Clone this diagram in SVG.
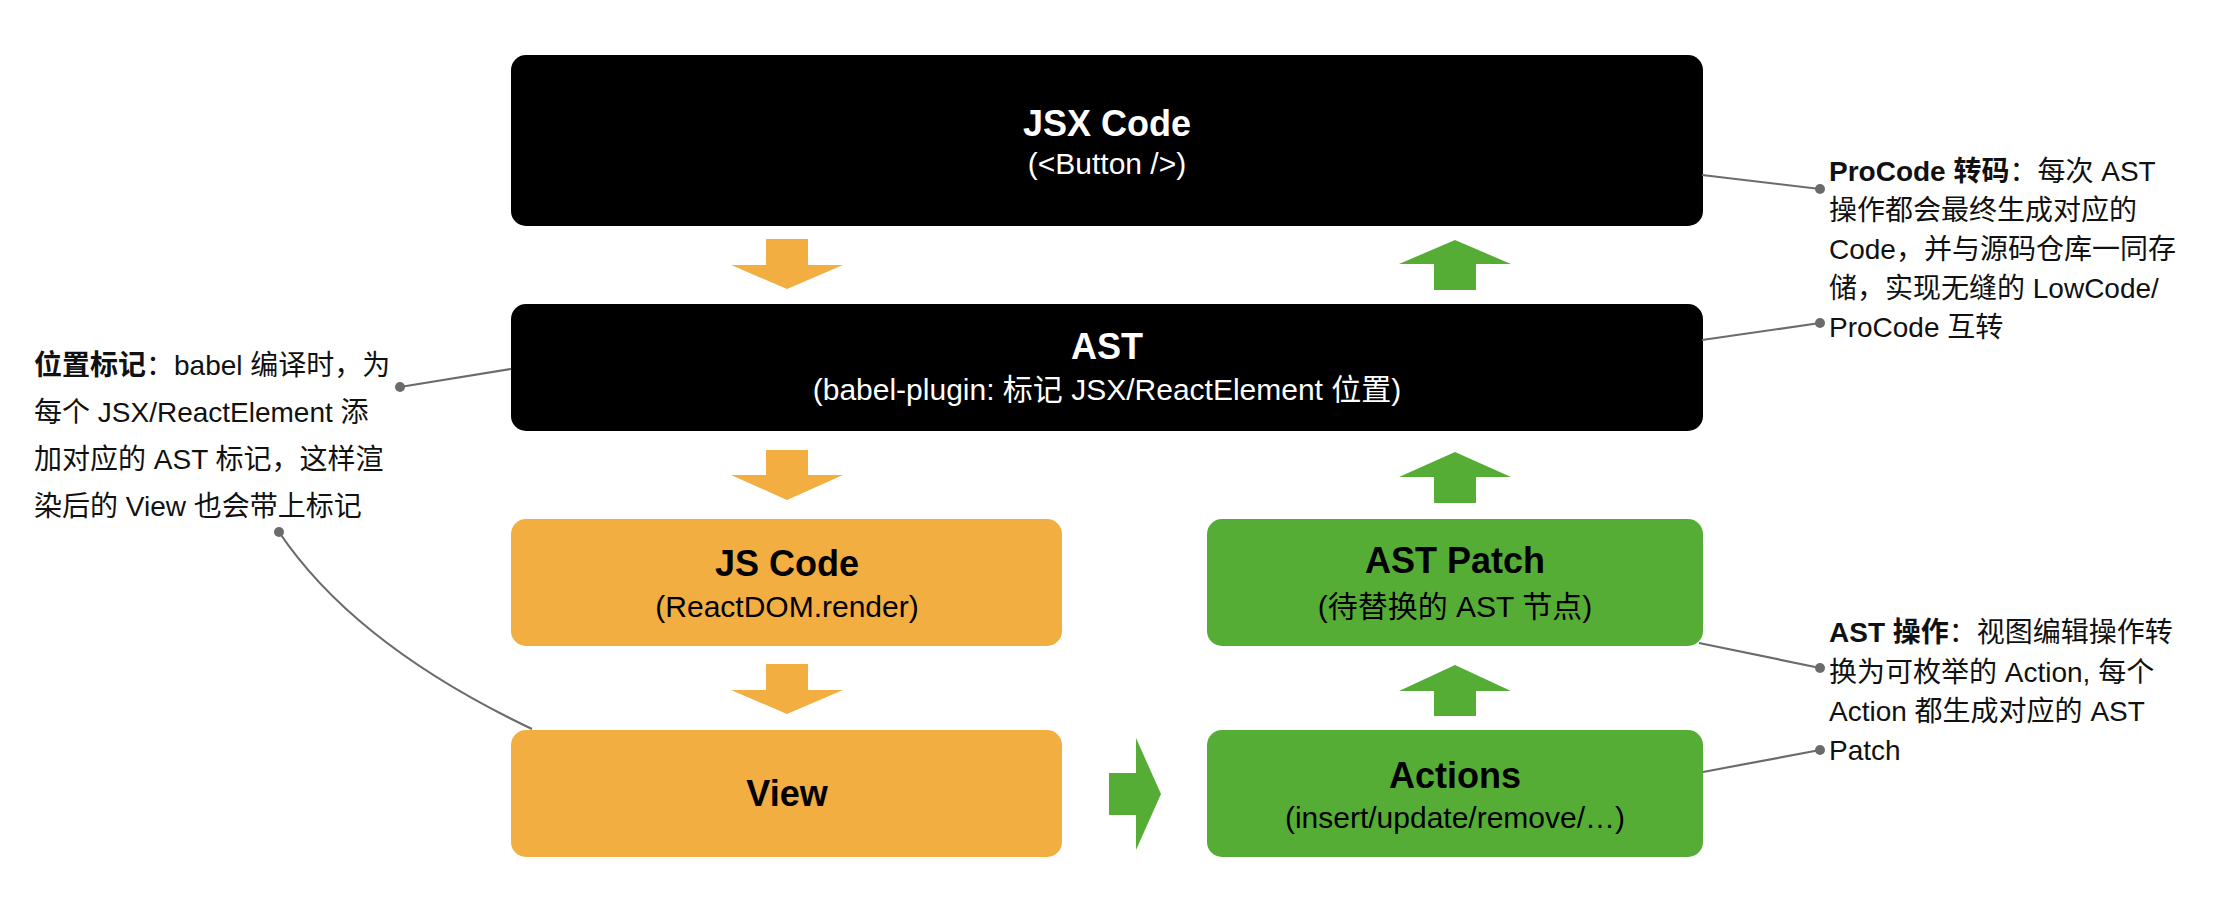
<svg xmlns="http://www.w3.org/2000/svg" width="2218" height="914" viewBox="0 0 2218 914">
<style>
text{font-family:"Liberation Sans","Noto Sans CJK SC",sans-serif}
.title{font-size:36px;font-weight:bold;text-anchor:middle}
.sub{font-size:30px;text-anchor:middle}
.w{fill:#ffffff}
.k{fill:#000000}
.note{font-size:28px;fill:#111111}
.b{font-weight:bold}
.blk{fill:#000000}
.org{fill:#F2AE40}
.grn{fill:#56AD36}
.ln{stroke:#6b6b6b;stroke-width:2.2;fill:none}
.dot{fill:#6b6b6b}
</style>
<rect width="2218" height="914" fill="#ffffff"/>

<g id="node-jsx">
<rect class="blk" x="511" y="55" width="1192" height="171" rx="15"/>
<text class="title w" x="1107" y="136">JSX Code</text>
<text class="sub w" x="1107" y="174">(&lt;Button /&gt;)</text>
</g>
<g id="node-ast">
<rect class="blk" x="511" y="304" width="1192" height="127" rx="15"/>
<text class="title w" x="1107" y="359">AST</text>
<text class="sub w" x="1107" y="400">(babel-plugin: 标记 JSX/ReactElement 位置)</text>
</g>
<g id="node-jscode">
<rect class="org" x="511" y="519" width="551" height="127" rx="15"/>
<text class="title k" x="787" y="576">JS Code</text>
<text class="sub k" x="787" y="617">(ReactDOM.render)</text>
</g>
<g id="node-view">
<rect class="org" x="511" y="730" width="551" height="127" rx="15"/>
<text class="title k" x="787" y="806">View</text>
</g>
<g id="node-astpatch">
<rect class="grn" x="1207" y="519" width="496" height="127" rx="15"/>
<text class="title k" x="1455" y="573">AST Patch</text>
<text class="sub k" x="1455" y="617">(待替换的 AST 节点)</text>
</g>
<g id="node-actions">
<rect class="grn" x="1207" y="730" width="496" height="127" rx="15"/>
<text class="title k" x="1455" y="788">Actions</text>
<text class="sub k" x="1455" y="828">(insert/update/remove/…)</text>
</g>

<g id="note-left">
<text class="note" x="34" y="375"><tspan class="b">位置标记</tspan>：babel 编译时，为</text>
<text class="note" x="34" y="422">每个 JSX/ReactElement 添</text>
<text class="note" x="34" y="469">加对应的 AST 标记，这样渲</text>
<text class="note" x="34" y="516">染后的 View 也会带上标记</text>
</g>
<g id="note-procode">
<text class="note" x="1829" y="181"><tspan class="b">ProCode 转码</tspan>：每次 AST</text>
<text class="note" x="1829" y="220">操作都会最终生成对应的</text>
<text class="note" x="1829" y="259">Code，并与源码仓库一同存</text>
<text class="note" x="1829" y="298">储，实现无缝的 LowCode/</text>
<text class="note" x="1829" y="337">ProCode 互转</text>
</g>
<g id="note-astop">
<text class="note" x="1829" y="642"><tspan class="b">AST 操作</tspan>：视图编辑操作转</text>
<text class="note" x="1829" y="682">换为可枚举的 Action, 每个</text>
<text class="note" x="1829" y="721">Action 都生成对应的 AST</text>
<text class="note" x="1829" y="760">Patch</text>
</g>

<g id="connectors">
<polygon class="org" points="766,239 808,239 808,265 843,265 787,289 731,265 766,265"/>
<polygon class="org" points="766,450 808,450 808,475 843,475 787,500 731,475 766,475"/>
<polygon class="org" points="766,664 808,664 808,690 843,690 787,714 731,690 766,690"/>
<polygon class="grn" points="1434,290 1476,290 1476,264 1511,264 1455,240 1399,264 1434,264"/>
<polygon class="grn" points="1434,503 1476,503 1476,477 1511,477 1455,452 1399,477 1434,477"/>
<polygon class="grn" points="1434,716 1476,716 1476,691 1511,691 1455,665 1399,691 1434,691"/>
<polygon class="grn" points="1109,773 1136,773 1136,738 1161,794 1136,850 1136,815 1109,815"/>

<path class="ln" d="M511,369 L400,387"/>
<circle class="dot" cx="400" cy="387" r="5"/>
<path class="ln" d="M279,532 Q355,645 532,729"/>
<circle class="dot" cx="279" cy="532" r="5"/>
<path class="ln" d="M1702,175 L1820,189"/>
<circle class="dot" cx="1820" cy="189" r="5"/>
<path class="ln" d="M1702,340 L1820,323"/>
<circle class="dot" cx="1820" cy="323" r="5"/>
<path class="ln" d="M1699,643 L1820,668"/>
<circle class="dot" cx="1820" cy="668" r="5"/>
<path class="ln" d="M1703,772 L1820,750"/>
<circle class="dot" cx="1820" cy="750" r="5"/>
</g>
</svg>
